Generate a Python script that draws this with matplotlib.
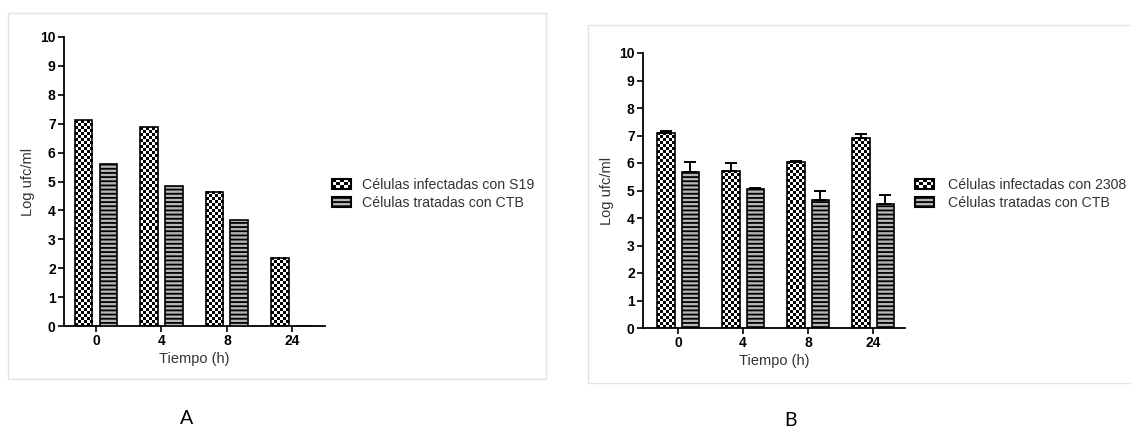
import numpy as np
import matplotlib
matplotlib.use('Agg')
import matplotlib.pyplot as plt
from matplotlib.image import BboxImage
from matplotlib.transforms import Bbox, TransformedBbox
from matplotlib.colors import Normalize
from matplotlib.patches import Rectangle, Patch
from matplotlib.legend_handler import HandlerBase

plt.rcParams['font.family'] = ['Liberation Sans', 'DejaVu Sans']
plt.rcParams['hatch.linewidth'] = 1.3

# datos
tiempos = ['0', '4', '8', '24']

# panel A
s19 = [7.12, 6.88, 4.64, 2.36]
ctb_a = [5.62, 4.84, 3.66, 0.0]

# panel B
cepa2308 = [7.1, 5.72, 6.05, 6.9]
cepa2308_err = [0.07, 0.27, 0.03, 0.15]
ctb_b = [5.66, 5.06, 4.64, 4.52]
ctb_b_err = [0.37, 0.04, 0.33, 0.3]

leyenda_a = ['Células infectadas con S19', 'Células tratadas con CTB']
leyenda_b = ['Células infectadas con 2308', 'Células tratadas con CTB']

W, H = 1131, 430
fig = plt.figure(figsize=(W / 100, H / 100), dpi=100)


def tablero(nf, nc):
    return np.indices((nf, nc)).sum(0) % 2


def rellenar_tablero(ax, barras, celda=3.0):
    # pinta el patron de cuadros dentro de cada barra
    fig.canvas.draw()
    for b in barras:
        bb = b.get_bbox()
        (x0, y0), (x1, y1) = ax.transData.transform([[bb.x0, bb.y0], [bb.x1, bb.y1]])
        if y1 - y0 < 1:
            continue
        nc = max(1, int(round((x1 - x0) / celda)))
        nf = max(1, int(round((y1 - y0) / celda)))
        im = BboxImage(TransformedBbox(bb, ax.transData), cmap='gray',
                       norm=Normalize(0, 1), interpolation='nearest', zorder=2)
        im.set_data(tablero(nf, nc))
        ax.add_artist(im)


class HandlerTablero(HandlerBase):
    def create_artists(self, legend, orig_handle, xdescent, ydescent,
                       width, height, fontsize, trans):
        bb = TransformedBbox(Bbox.from_bounds(-xdescent, -ydescent, width, height), trans)
        im = BboxImage(bb, cmap='gray', norm=Normalize(0, 1), interpolation='nearest')
        im.set_data(tablero(3, 5))
        r = Rectangle((-xdescent, -ydescent), width, height, fill=False,
                      edgecolor='black', lw=1.5, transform=trans)
        return [im, r]


def panel(rect, serie1, serie2, err1=None, err2=None, xlim=(-0.5, 3.5)):
    ax = fig.add_axes(rect)
    x = np.arange(len(tiempos))
    w = 0.27
    d = 0.19
    b1 = ax.bar(x - d, serie1, w, fill=False, edgecolor='black', lw=1.2, zorder=3)
    b2 = ax.bar(x + d, serie2, w, facecolor='#b5b5b5', edgecolor='black',
                hatch='----', lw=1.2, zorder=3)
    if err1 is not None:
        ax.errorbar(x - d, serie1, yerr=[np.zeros(len(err1)), err1], fmt='none',
                    ecolor='black', elinewidth=1.4, capsize=4, capthick=1.4, zorder=4)
        ax.errorbar(x + d, serie2, yerr=[np.zeros(len(err2)), err2], fmt='none',
                    ecolor='black', elinewidth=1.4, capsize=4, capthick=1.4, zorder=4)
    ax.set_ylim(0, 10)
    ax.set_xlim(*xlim)
    ax.set_yticks(range(11))
    ax.set_xticks(x)
    ax.set_xticklabels(tiempos)
    for s in ['top', 'right']:
        ax.spines[s].set_visible(False)
    for s in ['left', 'bottom']:
        ax.spines[s].set_linewidth(1.3)
    ax.tick_params(axis='both', length=4, width=1.2, labelsize=10, pad=2)
    for t in ax.get_xticklabels() + ax.get_yticklabels():
        t.set_fontweight('bold')
    ax.set_ylabel('Log ufc/ml', fontsize=10.5, color='#333333', labelpad=4)
    ax.set_xlabel('Tiempo (h)', fontsize=10.5, color='#333333', labelpad=3)
    rellenar_tablero(ax, b1)
    return ax


# marcos de cada panel
fig.add_artist(Rectangle((8 / W, 1 - 379 / H), 538 / W, 366 / H, fill=False,
                         edgecolor='#e2e2e2', lw=1.0, transform=fig.transFigure))
fig.add_artist(Rectangle((588 / W, 1 - 383 / H), 560 / W, 358 / H, fill=False,
                         edgecolor='#e2e2e2', lw=1.0, transform=fig.transFigure))

axA = panel([64 / W, 1 - 326 / H, 261 / W, 289 / H], s19, ctb_a, xlim=(-0.49, 3.5))
axB = panel([643 / W, 1 - 328 / H, 262 / W, 275 / H], cepa2308, ctb_b,
            cepa2308_err, ctb_b_err, xlim=(-0.54, 3.49))

h_tab = Patch(facecolor='white', edgecolor='black')
h_ray = Patch(facecolor='#b5b5b5', edgecolor='black', hatch='----', lw=1.5)

for lab, xx, pad in [(leyenda_a, 332, 0.75), (leyenda_b, 915, 0.95)]:
    fig.legend([h_tab, h_ray], lab, loc='center left',
               bbox_to_anchor=(xx / W, 1 - 194 / H), frameon=False,
               fontsize=10.2, labelcolor='#333333', handlelength=1.35,
               handleheight=0.75, handletextpad=pad, labelspacing=0.3,
               borderpad=0, borderaxespad=0,
               handler_map={h_tab: HandlerTablero()})

fig.text(187 / W, 1 - 418 / H, 'A', fontsize=14, family='Lato', ha='center', va='center')
fig.text(790 / W, 1 - 420 / H, 'B', fontsize=14, family='Lato', ha='center', va='center')

fig.savefig('out.png', dpi=100)
